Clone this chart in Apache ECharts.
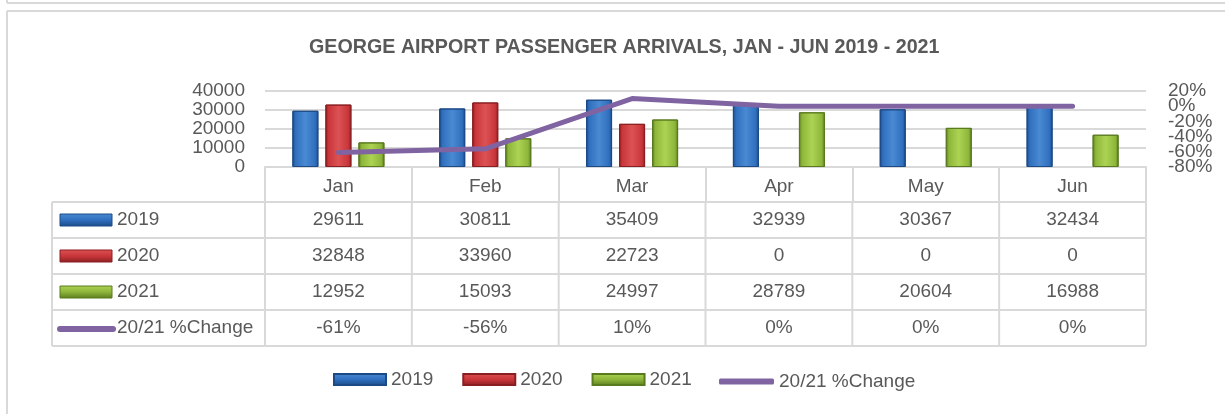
<!DOCTYPE html>
<html>
<head>
<meta charset="utf-8">
<script src="https://cdn.jsdelivr.net/npm/echarts@6/dist/echarts.min.js"></script>
<style>
  html, body { margin: 0; padding: 0; background: #fff; }
  #chart { width: 1225px; height: 414px; }
</style>
</head>
<body>
<div id="chart"></div>
<script>
// data
const months = ['Jan', 'Feb', 'Mar', 'Apr', 'May', 'Jun'];
const arrivals2019 = [29611, 30811, 35409, 32939, 30367, 32434];
const arrivals2020 = [32848, 33960, 22723, 0, 0, 0];
const arrivals2021 = [12952, 15093, 24997, 28789, 20604, 16988];
const pctChange = [-61, -56, 10, 0, 0, 0];
const seriesNames = ['2019', '2020', '2021', '20/21 %Change'];

const FONT = "'Liberation Sans', Arial, sans-serif";
const GRID_COLOR = '#d9d9d9';
const TEXT_COLOR = '#595959';

// bevel-ish fills
function barFill(dark, mid, light) {
    return new echarts.graphic.LinearGradient(0, 0, 1, 0, [
        { offset: 0, color: dark },
        { offset: 0.12, color: mid },
        { offset: 0.5, color: light },
        { offset: 0.88, color: mid },
        { offset: 1, color: dark },
    ]);
}
function keyFill(dark, mid, light) {
    return new echarts.graphic.LinearGradient(0, 0, 0, 1, [
        { offset: 0, color: light },
        { offset: 0.5, color: mid },
        { offset: 1, color: dark },
    ]);
}
const palette = [
    ['#1c4a86', '#2f6fbe', '#4a8ad2'],
    ['#8a1f22', '#c9363a', '#dc5254'],
    ['#5a7a1f', '#8db63a', '#add353'],
];
const lineColor = '#8064a2';

const chartDom = document.getElementById('chart');
const myChart = echarts.init(chartDom);

const barSeries = [arrivals2019, arrivals2020, arrivals2021].map((vals, i) => ({
    name: seriesNames[i],
    type: 'bar',
    barWidth: 26,
    barGap: '27%',
    itemStyle: {
        color: barFill(...palette[i]),
        borderColor: palette[i][0],
        borderWidth: 1,
    },
    // zero months draw no bar in the original
    data: vals.map((v) => (v === 0 ? null : v)),
}));

const axisLabelBase = {
    fontSize: 19,
    lineHeight: 11,
    color: TEXT_COLOR,
    fontFamily: FONT,
    showMinLabel: true,
    showMaxLabel: true,
    hideOverlap: false,
    interval: 0,
};

// the % labels crowd each other; split them over two stacked right axes
// so the library does not drop any of them
function pctAxis(keepEven) {
    return {
        type: 'value',
        min: -80,
        max: 20,
        interval: 20,
        position: 'right',
        axisLine: { show: false },
        axisTick: { show: false },
        splitLine: { show: false },
        axisLabel: {
            ...axisLabelBase,
            margin: 22,
            formatter: (v) => ((Math.round((v + 80) / 20) % 2 === 0) === keepEven ? v + '%' : ''),
        },
    };
}

const option = {
    animation: false,
    textStyle: { fontFamily: FONT },
    title: {
        text: 'GEORGE AIRPORT PASSENGER ARRIVALS, JAN - JUN 2019 - 2021',
        left: 304,
        top: 33,
        textStyle: { fontFamily: FONT, fontSize: 19.7, fontWeight: 'bold', color: TEXT_COLOR },
    },
    legend: [
        {
            bottom: 20,
            left: 328,
            itemWidth: 52,
            itemHeight: 11,
            itemGap: 29,
            textStyle: { fontFamily: FONT, fontSize: 19, color: TEXT_COLOR },
            data: [
                { name: '2019', icon: 'rect', itemStyle: { color: keyFill(...palette[0]) } },
                { name: '2020', icon: 'rect', itemStyle: { color: keyFill(...palette[1]) } },
                { name: '2021', icon: 'rect', itemStyle: { color: keyFill(...palette[2]) } },
            ],
        },
        {
            bottom: 18,
            left: 714,
            itemWidth: 55,
            itemHeight: 6,
            textStyle: { fontFamily: FONT, fontSize: 19, color: TEXT_COLOR },
            data: [
                { name: '20/21 %Change', icon: 'roundRect', itemStyle: { color: lineColor } },
            ],
        },
    ],
    grid: { left: 265, right: 79, top: 91, bottom: 247 },
    xAxis: {
        type: 'category',
        data: months,
        axisLine: { lineStyle: { color: GRID_COLOR, width: 2 } },
        axisTick: { show: true, length: 35, interval: 0, lineStyle: { color: GRID_COLOR, width: 2 } },
        axisLabel: { margin: 10, fontSize: 19, color: TEXT_COLOR, fontFamily: FONT },
    },
    yAxis: [
        {
            type: 'value',
            min: 0,
            max: 40000,
            interval: 10000,
            axisLine: { show: false },
            axisTick: { show: false },
            splitLine: { lineStyle: { color: GRID_COLOR, width: 2 } },
            axisLabel: { ...axisLabelBase, margin: 20, formatter: (v) => String(v) },
        },
        pctAxis(true),
        pctAxis(false),
    ],
    series: [
        ...barSeries,
        {
            name: seriesNames[3],
            type: 'line',
            yAxisIndex: 1,
            symbol: 'none',
            z: 5,
            lineStyle: { color: lineColor, width: 5, cap: 'round', join: 'round' },
            itemStyle: { color: lineColor },
            data: pctChange,
        },
    ],
};
myChart.setOption(option);

// data table under the plot, laid out from the category axis
function buildTable() {
    const x0 = myChart.convertToPixel({ xAxisIndex: 0 }, 0);
    const x1 = myChart.convertToPixel({ xAxisIndex: 0 }, 1);
    const band = x1 - x0;
    const plotLeft = x0 - band / 2;
    const plotRight = plotLeft + band * months.length;
    const axisY = myChart.convertToPixel({ yAxisIndex: 0 }, 0);
    const tableLeft = 52;
    const headerH = 35;
    const rowH = 36;
    const rows = [
        { vals: arrivals2019.map(String), key: 0 },
        { vals: arrivals2020.map(String), key: 1 },
        { vals: arrivals2021.map(String), key: 2 },
        { vals: pctChange.map((v) => v + '%'), key: 3 },
    ];
    const top = axisY + headerH;
    const bottom = top + rowH * rows.length;
    const els = [];
    const stroke = { stroke: GRID_COLOR, lineWidth: 2 };

    // frame of the chart box
    els.push({ type: 'line', shape: { x1: 7, y1: 3, x2: 1225, y2: 3 }, style: stroke, silent: true });
    els.push({ type: 'line', shape: { x1: 7, y1: 0, x2: 7, y2: 3 }, style: stroke, silent: true });
    els.push({ type: 'line', shape: { x1: 7, y1: 11, x2: 1225, y2: 11 }, style: stroke, silent: true });
    els.push({ type: 'line', shape: { x1: 7, y1: 11, x2: 7, y2: 414 }, style: stroke, silent: true });

    for (let r = 0; r <= rows.length; r++) {
        const y = top + r * rowH;
        els.push({ type: 'line', shape: { x1: tableLeft, y1: y, x2: plotRight, y2: y }, style: stroke, silent: true });
    }
    els.push({ type: 'line', shape: { x1: tableLeft, y1: top, x2: tableLeft, y2: bottom }, style: stroke, silent: true });
    for (let c = 0; c <= months.length; c++) {
        const x = plotLeft + c * band;
        els.push({ type: 'line', shape: { x1: x, y1: top, x2: x, y2: bottom }, style: stroke, silent: true });
    }

    rows.forEach((row, r) => {
        const cy = top + r * rowH + rowH / 2;
        if (row.key < 3) {
            els.push({
                type: 'rect',
                shape: { x: 60, y: cy - 6, width: 52, height: 12 },
                style: { fill: keyFill(...palette[row.key]), stroke: palette[row.key][0], lineWidth: 1 },
                silent: true,
            });
        } else {
            els.push({
                type: 'line',
                shape: { x1: 60, y1: cy + 1, x2: 113, y2: cy + 1 },
                style: { stroke: lineColor, lineWidth: 6, lineCap: 'round' },
                silent: true,
            });
        }
        els.push({
            type: 'text',
            x: 117,
            y: cy,
            style: {
                text: seriesNames[row.key], fontFamily: FONT, fontSize: 19, fill: TEXT_COLOR,
                textAlign: 'left', textVerticalAlign: 'middle',
            },
            silent: true,
        });
        row.vals.forEach((v, c) => {
            els.push({
                type: 'text',
                x: plotLeft + c * band + band / 2,
                y: cy,
                style: {
                    text: v, fontFamily: FONT, fontSize: 19, fill: TEXT_COLOR,
                    textAlign: 'center', textVerticalAlign: 'middle',
                },
                silent: true,
            });
        });
    });

    myChart.setOption({ graphic: { elements: els } });
}
buildTable();
</script>
</body>
</html>
